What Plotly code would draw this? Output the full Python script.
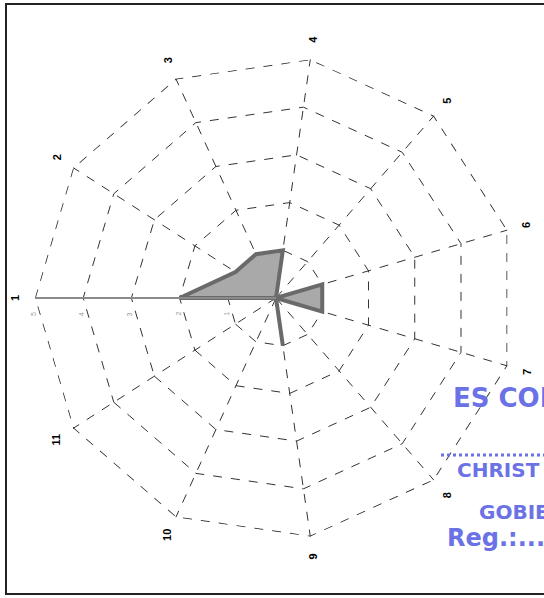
import math
import plotly.graph_objects as go

categories = ["1", "2", "3", "4", "5", "6", "7", "8", "9", "10", "11"]
values = [2, 1, 1, 1, 0, 1, 1, 0, 1, 0, 0]
radial_ticks = [1, 2, 3, 4, 5]
stamp_lines = ["ES COM", "CHRIST", "GOBIE", "Reg.:....."]

W, H = 544, 598
CX, CY, R = 276, 298, 241  # pixel centre and radius of polar area
RMAX = 5
GRID = "#333333"

fig = go.Figure()
# outer ring of the grid (plotly omits the grid line at the range edge)
fig.add_trace(go.Scatterpolar(
    r=[RMAX] * (len(categories) + 1),
    theta=categories + categories[:1],
    mode="lines",
    cliponaxis=False,
    line=dict(color="#222222", width=1.5, dash="dash"),
    hoverinfo="skip",
))
fig.add_trace(go.Scatterpolar(
    r=values + values[:1],
    theta=categories + categories[:1],
    mode="lines",
    fill="toself",
    fillcolor="#a9a9a9",
    line=dict(color="#6a6a6a", width=4),
    hoverinfo="skip",
))

fig.update_layout(
    width=W, height=H,
    margin=dict(l=0, r=0, t=0, b=0),
    paper_bgcolor="white",
    showlegend=False,
    polar=dict(
        domain=dict(x=[(CX - R) / W, (CX + R) / W],
                    y=[(H - CY - R) / H, (H - CY + R) / H]),
        bgcolor="white",
        gridshape="linear",
        radialaxis=dict(range=[0, RMAX], tickvals=radial_ticks, showticklabels=False,
                        ticks="", angle=180, showline=True, linecolor="#8a8a8a", linewidth=2,
                        gridcolor=GRID, griddash="dash", gridwidth=1),
        angularaxis=dict(rotation=180, direction="clockwise", showticklabels=False,
                         ticks="", showline=False,
                         gridcolor=GRID, griddash="dash", gridwidth=1),
    ),
)

ann = []
n = len(categories)
for i, c in enumerate(categories):
    ang = math.radians(180 - i * 360 / n)
    rp = R + 20
    px = CX + rp * math.cos(ang)
    py = CY - rp * math.sin(ang)
    ann.append(dict(x=px / W, y=1 - py / H, xref="paper", yref="paper", text="<b>%s</b>" % c,
                    showarrow=False, textangle=-90, xanchor="center", yanchor="middle",
                    font=dict(family="Liberation Sans, Arial", size=11, color="black")))
for t in radial_ticks:
    px = CX - R * t / RMAX
    ann.append(dict(x=(px - 2) / W, y=1 - 314 / H, xref="paper", yref="paper", text=str(t),
                    showarrow=False, textangle=-90, xanchor="center", yanchor="middle",
                    font=dict(family="Liberation Sans, Arial", size=7, color="#9a9a9a")))

blue = "#6b72e6"
stamp_pos = [(451, 398, 26), (455, 470, 20), (477, 512, 20), (445, 538, 24)]
for txt, (sx, sy, fs) in zip(stamp_lines, stamp_pos):
    ann.append(dict(x=sx / W, y=1 - sy / H, xref="paper", yref="paper", text="<b>%s</b>" % txt,
                    showarrow=False, xanchor="left", yanchor="middle",
                    font=dict(family="DejaVu Sans", size=fs, color=blue)))
fig.update_layout(annotations=ann)

fig.add_shape(type="rect", xref="paper", yref="paper",
              x0=6 / W, x1=1.05, y0=1 - 594 / H, y1=1 - 4 / H,
              line=dict(color="#222", width=2))
fig.add_shape(type="line", xref="paper", yref="paper",
              x0=441 / W, x1=1.0, y0=1 - 455 / H, y1=1 - 455 / H,
              line=dict(color=blue, width=3, dash="dot"))

fig.write_html("out.html", config={"displayModeBar": False},
               post_script="document.body.style.margin='0';document.body.style.overflow='hidden';")
